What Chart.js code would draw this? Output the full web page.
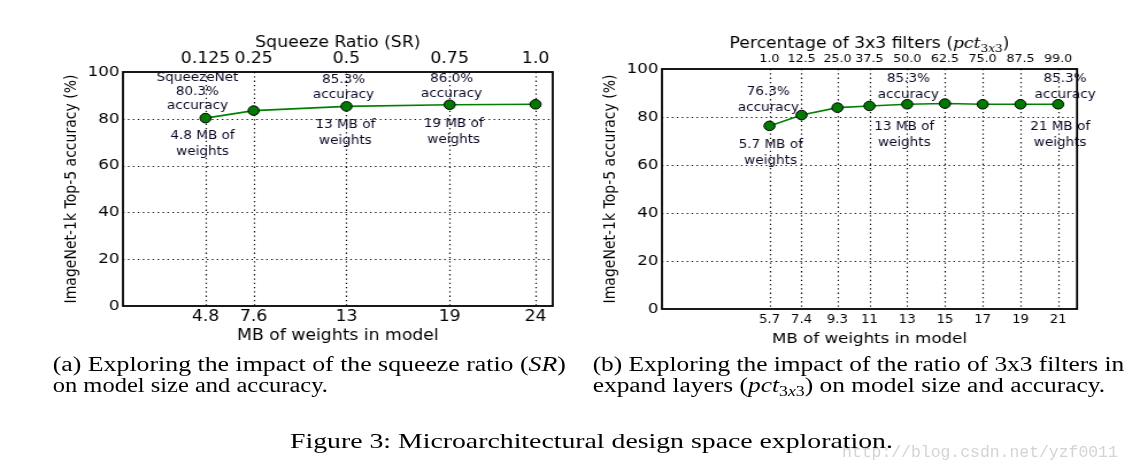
<!DOCTYPE html>
<html>
<head>
<meta charset="utf-8">
<script src="https://cdn.jsdelivr.net/npm/chart.js@4.4.1/dist/chart.umd.min.js"></script>
<style>
  html, body { margin:0; padding:0; background:#fff; overflow:hidden; }
  #wrap { position:absolute; left:0; top:0; width:985px; height:472px; transform:scaleX(1.1492); transform-origin:0 0; }
  canvas { position:absolute; top:0; }
  svg { position:absolute; left:0; top:0; }
</style>
</head>
<body>
<div id="wrap">
  <canvas id="c1" width="500" height="350" style="left:0"></canvas>
  <canvas id="c2" width="485" height="350" style="left:500px"></canvas>
  <svg width="985" height="472" font-family="Liberation Serif, Times New Roman, serif">
    <text x="732.7" y="457" font-family="Liberation Mono, monospace" font-size="17" fill="#d4d4d4" textLength="240" lengthAdjust="spacingAndGlyphs">http://blog.csdn.net/yzf0011</text>
    <text x="45.9" y="371" font-size="20" textLength="446.5" lengthAdjust="spacingAndGlyphs">(a) Exploring the impact of the squeeze ratio (<tspan font-style="italic">SR</tspan>)</text>
    <text x="45.9" y="392.5" font-size="20" textLength="239.5" lengthAdjust="spacingAndGlyphs">on model size and accuracy.</text>
    <text x="515.7" y="371" font-size="20" textLength="462.5" lengthAdjust="spacingAndGlyphs">(b) Exploring the impact of the ratio of 3x3 filters in</text>
    <text x="515.7" y="392.5" font-size="20" textLength="446" lengthAdjust="spacingAndGlyphs">expand layers (<tspan font-style="italic">pct</tspan><tspan font-size="14" dy="4">3</tspan><tspan font-size="14" font-style="italic">x</tspan><tspan font-size="14">3</tspan><tspan dy="-4">)</tspan> on model size and accuracy.</text>
    <text x="252.4" y="448" font-size="22" textLength="524.6" lengthAdjust="spacingAndGlyphs">Figure 3: Microarchitectural design space exploration.</text>
  </svg>
</div>
<script>
// ---------- data ----------
const leftMB = [4.8, 7.6, 13, 19, 24];
const leftAcc = [80.3, 83.5, 85.3, 86.0, 86.2];
const leftMBLabels = ['4.8', '7.6', '13', '19', '24'];
const leftSRLabels = ['0.125', '0.25', '0.5', '0.75', '1.0'];

const rightMB = [5.7, 7.4, 9.3, 11, 13, 15, 17, 19, 21];
const rightAcc = [76.3, 80.8, 83.9, 84.6, 85.3, 85.6, 85.3, 85.3, 85.3];
const rightMBLabels = ['5.7', '7.4', '9.3', '11', '13', '15', '17', '19', '21'];
const rightPctLabels = ['1.0', '12.5', '25.0', '37.5', '50.0', '62.5', '75.0', '87.5', '99.0'];

const yTicks = [0, 20, 40, 60, 80, 100];

const leftNotes = [
  { index: 0, above: ['SqueezeNet', '80.3%', 'accuracy'], below: ['4.8 MB of', 'weights'] },
  { index: 2, above: ['85.3%', 'accuracy'], below: ['13 MB of', 'weights'] },
  { index: 3, above: ['86.0%', 'accuracy'], below: ['19 MB of', 'weights'] }
];
const rightNotes = [
  { index: 0, above: ['76.3%', 'accuracy'], below: ['5.7 MB of', 'weights'] },
  { index: 4, above: ['85.3%', 'accuracy'], below: ['13 MB of', 'weights'] },
  { index: 8, above: ['85.3%', 'accuracy'], below: ['21 MB of', 'weights'] }
];

// ---------- styling / layout (not data) ----------
const leftNoteLayout = [
  { adx: -7, ay: -12, agap: 14, bdx: -2.6, by: 18, bgap: 16 },
  { adx: -2.6, ay: -11, agap: 15, bdx: -1, by: 19, bgap: 16 },
  { adx: 1.7, ay: -11, agap: 15, bdx: 3.5, by: 19, bgap: 16 }
];
const rightNoteLayout = [
  { adx: -1, ay: -18, agap: 16, bdx: 1, by: 19, bgap: 16 },
  { adx: 1, ay: -9, agap: 16, bdx: -2.6, by: 23, bgap: 16 },
  { adx: 6, ay: -9, agap: 16, bdx: 1.7, by: 23, bgap: 16 }
];

Chart.defaults.font.family = '"DejaVu Sans", sans-serif';
Chart.defaults.color = '#000';

function framePlugin() {
  return {
    id: 'frame',
    beforeDatasetsDraw(chart) {
      const { ctx, chartArea: a, scales } = chart;
      ctx.save();
      ctx.strokeStyle = '#111';
      ctx.lineWidth = 1.2;
      ctx.setLineDash([1.3, 3]);
      scales.x.ticks.forEach(t => {
        const x = Math.round(scales.x.getPixelForValue(t.value)) + 0.5;
        ctx.beginPath(); ctx.moveTo(x, a.top); ctx.lineTo(x, a.bottom); ctx.stroke();
      });
      scales.y.ticks.forEach(t => {
        if (t.value <= scales.y.min || t.value >= scales.y.max) return;
        const y = Math.round(scales.y.getPixelForValue(t.value)) + 0.5;
        ctx.beginPath(); ctx.moveTo(a.left, y); ctx.lineTo(a.right, y); ctx.stroke();
      });
      ctx.setLineDash([]);
      ctx.strokeStyle = '#000';
      ctx.lineWidth = 1.8;
      ctx.strokeRect(a.left, a.top, a.right - a.left, a.bottom - a.top);
      ctx.restore();
    }
  };
}

function notesPlugin(notes, layout) {
  return {
    id: 'notes',
    afterDatasetsDraw(chart) {
      const meta = chart.getDatasetMeta(0);
      const ctx = chart.ctx;
      ctx.save();
      ctx.font = '11.8px "DejaVu Sans"';
      ctx.fillStyle = '#0a0a26';
      ctx.textAlign = 'center';
      ctx.textBaseline = 'middle';
      notes.forEach((n, k) => {
        const L = layout[k];
        const p = meta.data[n.index];
        n.above.forEach((t, j) => {
          ctx.fillText(t, p.x + L.adx, p.y + L.ay - (n.above.length - 1 - j) * L.agap);
        });
        n.below.forEach((t, j) => {
          ctx.fillText(t, p.x + L.bdx, p.y + L.by + j * L.bgap);
        });
      });
      ctx.restore();
    }
  };
}

function mathTitlePlugin(centerY) {
  return {
    id: 'mathTitle',
    afterDraw(chart) {
      const { ctx, chartArea: a } = chart;
      const segs = [
        { t: 'Percentage of 3x3 filters (', f: '15px "DejaVu Sans"', dy: 0 },
        { t: 'pct', f: 'italic 15px "DejaVu Serif"', dy: 0 },
        { t: '3', f: '10.5px "DejaVu Serif"', dy: 3.5 },
        { t: 'x', f: 'italic 10.5px "DejaVu Serif"', dy: 3.5 },
        { t: '3', f: '10.5px "DejaVu Serif"', dy: 3.5 },
        { t: ')', f: '15px "DejaVu Sans"', dy: 0 }
      ];
      ctx.save();
      ctx.fillStyle = '#000';
      ctx.textBaseline = 'alphabetic';
      ctx.textAlign = 'left';
      let total = 0;
      segs.forEach(s => { ctx.font = s.f; s.w = ctx.measureText(s.t).width; total += s.w; });
      let x = (a.left + a.right) / 2 - total / 2;
      const base = centerY + 5.5;
      segs.forEach(s => { ctx.font = s.f; ctx.fillText(s.t, x, base + s.dy); x += s.w; });
      ctx.restore();
    }
  };
}

function dataset(xs, ys) {
  return {
    data: xs.map((x, i) => ({ x: x, y: ys[i] })),
    borderColor: '#008000',
    borderWidth: 1.6,
    backgroundColor: '#007a00',
    pointBackgroundColor: '#007a00',
    pointBorderColor: '#000',
    pointBorderWidth: 1,
    pointRadius: 4.8,
    tension: 0,
    fill: false
  };
}

function xAxis(opts) {
  return {
    type: 'linear',
    position: opts.position,
    min: opts.min, max: opts.max,
    afterBuildTicks: s => { s.ticks = opts.values.map(v => ({ value: v })); },
    afterFit: s => { s.height = opts.height; },
    ticks: {
      autoSkip: false, maxRotation: 0, minRotation: 0,
      padding: opts.tickPad, font: { size: opts.tickSize }, color: '#000',
      callback: (v, i) => opts.labels[i]
    },
    grid: { display: false, drawTicks: false },
    border: { display: false },
    title: opts.title
  };
}

function yAxis(width, titlePad) {
  return {
    type: 'linear', min: 0, max: 100,
    afterBuildTicks: s => { s.ticks = yTicks.map(v => ({ value: v })); },
    afterFit: s => { s.width = width; },
    ticks: { padding: 3, font: { size: 14.5 }, color: '#000', callback: v => String(v) },
    grid: { display: false, drawTicks: false },
    border: { display: false },
    title: { display: true, text: 'ImageNet-1k Top-5 accuracy (%)', font: { size: 14 }, color: '#000', padding: { top: titlePad, bottom: 0 } }
  };
}

const common = {
  responsive: false,
  animation: false,
  devicePixelRatio: 1,
  plugins: { legend: { display: false }, tooltip: { enabled: false } }
};

new Chart(document.getElementById('c1'), {
  type: 'line',
  data: { datasets: [dataset(leftMB, leftAcc)] },
  options: Object.assign({}, common, {
    layout: { padding: { left: 0, right: 19, top: 0, bottom: 0 } },
    scales: {
      x: xAxis({ position: 'bottom', min: 0, max: 25, values: leftMB, labels: leftMBLabels, height: 44, tickPad: 2, tickSize: 15,
        title: { display: true, text: 'MB of weights in model', font: { size: 15 }, color: '#000', padding: { top: 0, bottom: 5 } } }),
      xTop: xAxis({ position: 'top', min: 0, max: 25, values: leftMB, labels: leftSRLabels, height: 72, tickPad: 4, tickSize: 15,
        title: { display: true, text: 'Squeeze Ratio (SR)', font: { size: 15 }, color: '#000', padding: { top: 33.7, bottom: 0 } } }),
      y: yAxis(107, 54.3)
    }
  }),
  plugins: [framePlugin(), notesPlugin(leftNotes, leftNoteLayout)]
});

new Chart(document.getElementById('c2'), {
  type: 'line',
  data: { datasets: [dataset(rightMB, rightAcc)] },
  options: Object.assign({}, common, {
    layout: { padding: { left: 0, right: 47.8, top: 0, bottom: 0 } },
    scales: {
      x: xAxis({ position: 'bottom', min: 0, max: 22, values: rightMB, labels: rightMBLabels, height: 41, tickPad: 4.1, tickSize: 11.5,
        title: { display: true, text: 'MB of weights in model', font: { size: 14.5 }, color: '#000', padding: { top: 0, bottom: 2 } } }),
      xTop: xAxis({ position: 'top', min: 0, max: 22, values: rightMB, labels: rightPctLabels, height: 69, tickPad: 3.4, tickSize: 11,
        title: { display: false } }),
      y: yAxis(76, 23.3)
    }
  }),
  plugins: [framePlugin(), notesPlugin(rightNotes, rightNoteLayout), mathTitlePlugin(42.7)]
});
</script>
</body>
</html>
